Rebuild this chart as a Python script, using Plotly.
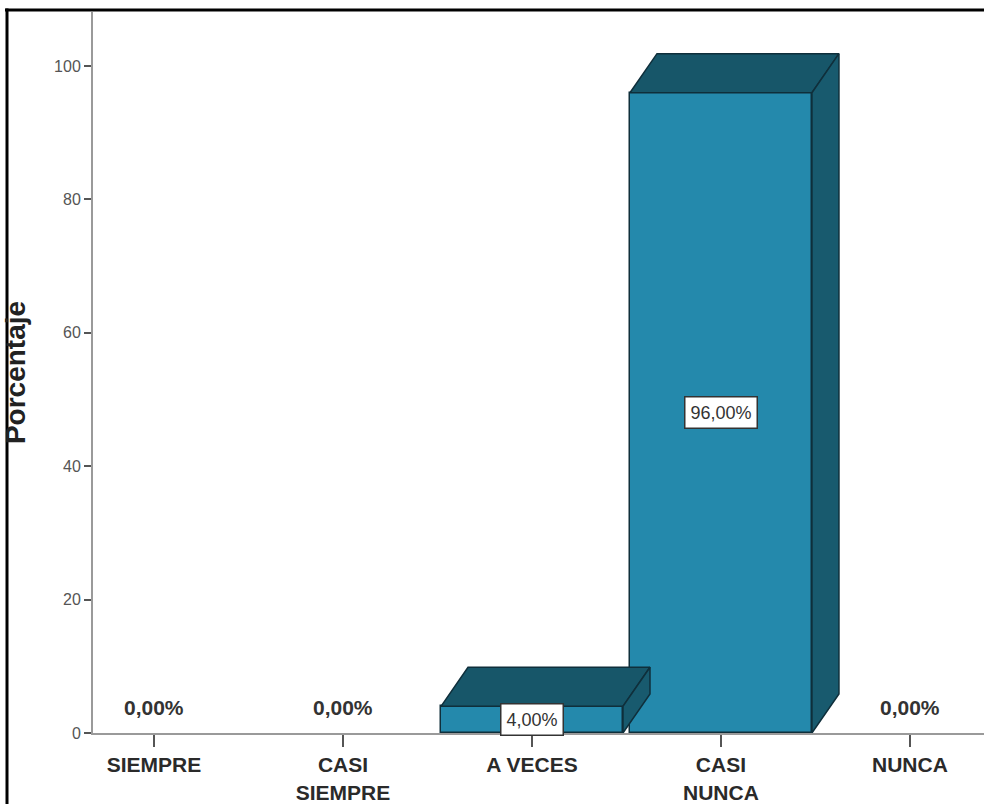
import plotly.graph_objects as go

categories = ["SIEMPRE", "CASI<br>SIEMPRE", "A VECES", "CASI<br>NUNCA", "NUNCA"]
percentages = [0.0, 0.0, 4.0, 96.0, 0.0]
labels = ["0,00%", "0,00%", "4,00%", "96,00%", "0,00%"]
y_ticks = [0, 20, 40, 60, 80, 100]

FRONT = "#2489ac"
TOP = "#175669"
SIDE = "#185a6e"
EDGE = "#0f2f3b"
BAR_W = 0.963
DX = 0.143   # depth offset in category units
DY = 5.85    # depth offset in y units
FONT = "Liberation Sans Narrow, Arial Narrow, Liberation Sans, Arial, sans-serif"

xs = list(range(len(categories)))

fig = go.Figure()

fig.add_trace(go.Bar(
    x=xs, y=percentages, width=BAR_W,
    marker=dict(color=FRONT,
                line=dict(color=EDGE, width=[1.5 if v > 0 else 0 for v in percentages])),
    hoverinfo="skip", showlegend=False,
))

for x, v in zip(xs, percentages):
    if v <= 0:
        continue
    l, r = x - BAR_W / 2, x + BAR_W / 2
    # top face
    fig.add_trace(go.Scatter(
        x=[l, l + DX, r + DX, r, l], y=[v, v + DY, v + DY, v, v],
        mode="lines", fill="toself", fillcolor=TOP,
        line=dict(color=EDGE, width=1.5), hoverinfo="skip", showlegend=False,
    ))
    # side face
    fig.add_trace(go.Scatter(
        x=[r, r + DX, r + DX, r, r], y=[0, DY, v + DY, v, 0],
        mode="lines", fill="toself", fillcolor=SIDE,
        line=dict(color=EDGE, width=1.5), hoverinfo="skip", showlegend=False,
    ))

annotations = []
for x, v, t in zip(xs, percentages, labels):
    if v > 0:
        annotations.append(dict(
            x=x, y=v / 2, text=t, showarrow=False,
            font=dict(family=FONT, size=18, color="#333333"),
            bgcolor="white", bordercolor="#333333", borderwidth=1.5, borderpad=5,
        ))
    else:
        annotations.append(dict(
            x=x, y=0, yanchor="bottom", yshift=12, text="<b>" + t + "</b>",
            showarrow=False,
            font=dict(family=FONT, size=21, color="#333333"),
        ))

fig.update_layout(
    width=984, height=804,
    margin=dict(l=93, r=0, t=12, b=71),
    paper_bgcolor="white", plot_bgcolor="white",
    bargap=0,
    xaxis=dict(
        range=[-0.323, 4.392],
        tickmode="array", tickvals=xs,
        ticktext=["<b>" + c.replace("<br>", "</b><br><b>") + "</b>" for c in categories],
        tickfont=dict(family=FONT, size=21, color="#2a2a2a"),
        ticks="outside", ticklen=12, tickwidth=2, tickcolor="#555555",
        showline=True, linecolor="#9a9a9a", linewidth=2,
        showgrid=False, zeroline=False, fixedrange=True,
    ),
    yaxis=dict(
        range=[0, 108.1],
        tickmode="array", tickvals=y_ticks, ticktext=[str(t) for t in y_ticks],
        tickfont=dict(family=FONT, size=16, color="#555555"),
        ticks="outside", ticklen=7, tickwidth=2, tickcolor="#555555",
        showline=True, linecolor="#9a9a9a", linewidth=2,
        showgrid=False, zeroline=False, fixedrange=True,
        title=dict(text="<b>Porcentaje</b>",
                   font=dict(family="Liberation Sans, Arial, sans-serif", size=28, color="#222222"),
                   standoff=22),
    ),
    annotations=annotations,
    shapes=[
        dict(type="line", xref="paper", yref="paper",
             x0=(5 - 93) / 891, x1=1.01, y0=1 + 2 / 721, y1=1 + 2 / 721,
             line=dict(color="black", width=3)),
        dict(type="line", xref="paper", yref="paper",
             x0=(7 - 93) / 891, x1=(7 - 93) / 891, y0=1 + 3.5 / 721, y1=-0.2,
             line=dict(color="black", width=3)),
    ],
)

fig.write_html("out.html")
